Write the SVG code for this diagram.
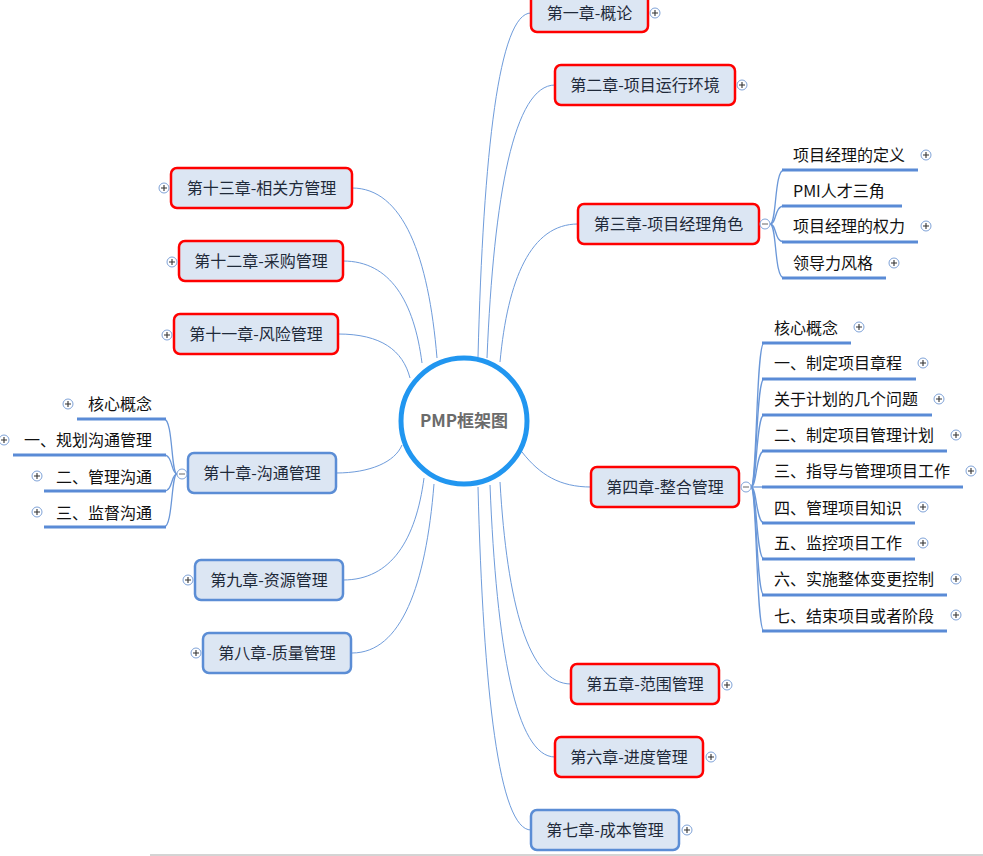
<svg xmlns="http://www.w3.org/2000/svg" xmlns:xlink="http://www.w3.org/1999/xlink" width="983" height="856" viewBox="0 0 983 856">
<style>
  .node rect{fill:#dce6f3;stroke-width:2.5}
  .red rect{stroke:#ff0000}
  .blue rect{stroke:#5b8dd5}
  .nt{font-family:"Noto Sans CJK SC","Noto Sans",sans-serif;font-size:16px;fill:#1f2a3a;text-anchor:middle}
  .st{font-family:"Noto Sans CJK SC","Noto Sans",sans-serif;font-size:16px;fill:#111}
  .conn path{fill:none;stroke:#6f9cdb;stroke-width:1}
  .sub path{fill:none;stroke:#6a97d8;stroke-width:1.3}
  .ul{stroke:#5a8bd6;stroke-width:3}
</style>
<defs>
  <g id="plus"><circle r="5" fill="#fff" stroke="#7fa3d8" stroke-width="1"/><path d="M-3 0H3M0 -3V3" stroke="#333" stroke-width="1.1"/></g>
  <g id="minus"><circle r="5" fill="#fff" stroke="#7fa3d8" stroke-width="1"/><path d="M-3 0H3" stroke="#666" stroke-width="1"/></g>
</defs>
<rect width="983" height="856" fill="#fff"/>
<rect x="150" y="854" width="833" height="2" fill="#d4d4d4"/>

<g id="connectors" class="conn">
  <path d="M478 357C483.3 150.6 499.2 13 531 13"/>
  <path d="M487 358C493.8 194.2 514.2 85 555 85"/>
  <path d="M500 362C507.7 279.2 530.8 224 578 224"/>
  <path d="M522 452C540 475 560 487 591 487"/>
  <path d="M500 482C507.1 603.2 528.4 684 571 684"/>
  <path d="M490 485C496.5 648.2 516 757 555 757"/>
  <path d="M478 487C483.3 692.8 499.2 830 531 830"/>
  <path d="M437 358C428.5 256 403 188 352 188"/>
  <path d="M422 363C414.1 301.8 390.4 261 343 261"/>
  <path d="M410 378C402.8 350.4 381.2 334 338 334"/>
  <path d="M402 445C395 462 370 473 336 473"/>
  <path d="M424 478C415.9 539.2 391.6 580 343 580"/>
  <path d="M434 484C425.8 585.4 401.2 653 352 653"/>
</g>

<g id="sub-connectors" class="sub">
  <path d="M770 224C777 224 774 170 784 170"/>
  <path d="M770 224C777 224 774 206 784 206"/>
  <path d="M770 224C777 224 774 242 784 242"/>
  <path d="M770 224C777 224 774 278 784 278"/>
  <path d="M751 487C757 487 756 343 764 343"/>
  <path d="M751 487C757 487 756 379 764 379"/>
  <path d="M751 487C757 487 756 415 764 415"/>
  <path d="M751 487C757 487 756 451 764 451"/>
  <path d="M751 487L764 487"/>
  <path d="M751 487C757 487 756 523 764 523"/>
  <path d="M751 487C757 487 756 559 764 559"/>
  <path d="M751 487C757 487 756 595 764 595"/>
  <path d="M751 487C757 487 756 631 764 631"/>
  <path d="M177 474C171 474 173 419 164 419"/>
  <path d="M177 474C171 474 173 455 164 455"/>
  <path d="M177 474C171 474 173 491 164 491"/>
  <path d="M177 474C171 474 173 527 164 527"/>
</g>

<g id="center">
  <circle cx="464" cy="421" r="63" fill="#fff" stroke="#2196f0" stroke-width="5"/>
  <text x="464" y="427" text-anchor="middle" font-family="'Noto Sans CJK SC','Noto Sans',sans-serif" font-size="17" font-weight="bold" fill="#6b6b6b">PMP框架图</text>
</g>

<g id="ch1" class="node red"><rect x="531" y="-7" width="117" height="39" rx="6"/><text class="nt" x="589.5" y="19">第一章-概论</text><use href="#plus" x="655" y="13"/></g>
<g id="ch2" class="node red"><rect x="555" y="65" width="180" height="40" rx="6"/><text class="nt" x="645" y="91">第二章-项目运行环境</text><use href="#plus" x="742" y="85"/></g>
<g id="ch3" class="node red"><rect x="578" y="204" width="181" height="40" rx="6"/><text class="nt" x="668.5" y="230">第三章-项目经理角色</text><use href="#minus" x="765" y="224"/></g>
<g id="ch4" class="node red"><rect x="591" y="467" width="148" height="40" rx="6"/><text class="nt" x="665" y="493">第四章-整合管理</text><use href="#minus" x="746" y="487"/></g>
<g id="ch5" class="node red"><rect x="571" y="664" width="148" height="40" rx="6"/><text class="nt" x="645" y="690">第五章-范围管理</text><use href="#plus" x="727" y="685"/></g>
<g id="ch6" class="node red"><rect x="555" y="737" width="148" height="40" rx="6"/><text class="nt" x="629" y="763">第六章-进度管理</text><use href="#plus" x="711" y="757"/></g>
<g id="ch7" class="node blue"><rect x="531" y="810" width="148" height="40" rx="6"/><text class="nt" x="605" y="836">第七章-成本管理</text><use href="#plus" x="687" y="830"/></g>
<g id="ch8" class="node blue"><rect x="203" y="633" width="148" height="40" rx="6"/><text class="nt" x="277" y="659">第八章-质量管理</text><use href="#plus" x="196" y="653"/></g>
<g id="ch9" class="node blue"><rect x="195" y="560" width="148" height="40" rx="6"/><text class="nt" x="269" y="586">第九章-资源管理</text><use href="#plus" x="188" y="580"/></g>
<g id="ch10" class="node blue"><rect x="188" y="453" width="148" height="40" rx="6"/><text class="nt" x="262" y="479">第十章-沟通管理</text><use href="#minus" x="182" y="474"/></g>
<g id="ch11" class="node red"><rect x="174" y="314" width="164" height="40" rx="6"/><text class="nt" x="256" y="340">第十一章-风险管理</text><use href="#plus" x="167" y="335"/></g>
<g id="ch12" class="node red"><rect x="179" y="241" width="164" height="40" rx="6"/><text class="nt" x="261" y="267">第十二章-采购管理</text><use href="#plus" x="172" y="262"/></g>
<g id="ch13" class="node red"><rect x="171" y="168" width="181" height="40" rx="6"/><text class="nt" x="261.5" y="194">第十三章-相关方管理</text><use href="#plus" x="164" y="188"/></g>

<g id="ch3-items">
  <g id="ch3-1"><text class="st" x="793" y="161">项目经理的定义</text><line class="ul" x1="782" y1="170" x2="918" y2="170"/><use href="#plus" x="926" y="155"/></g>
  <g id="ch3-2"><text class="st" x="793" y="197">PMI人才三角</text><line class="ul" x1="782" y1="206" x2="902" y2="206"/></g>
  <g id="ch3-3"><text class="st" x="793" y="232">项目经理的权力</text><line class="ul" x1="782" y1="242" x2="918" y2="242"/><use href="#plus" x="926" y="226"/></g>
  <g id="ch3-4"><text class="st" x="793" y="269">领导力风格</text><line class="ul" x1="782" y1="278" x2="886" y2="278"/><use href="#plus" x="894" y="263"/></g>
</g>

<g id="ch4-items">
  <g id="ch4-0"><text class="st" x="774" y="334">核心概念</text><line class="ul" x1="762" y1="343" x2="851" y2="343"/><use href="#plus" x="859" y="327"/></g>
  <g id="ch4-1"><text class="st" x="774" y="369">一、制定项目章程</text><line class="ul" x1="762" y1="379" x2="916" y2="379"/><use href="#plus" x="923" y="363"/></g>
  <g id="ch4-q"><text class="st" x="774" y="405">关于计划的几个问题</text><line class="ul" x1="762" y1="415" x2="932" y2="415"/><use href="#plus" x="939" y="399"/></g>
  <g id="ch4-2"><text class="st" x="774" y="441">二、制定项目管理计划</text><line class="ul" x1="762" y1="451" x2="947" y2="451"/><use href="#plus" x="956" y="435"/></g>
  <g id="ch4-3"><text class="st" x="774" y="477">三、指导与管理项目工作</text><line class="ul" x1="762" y1="487" x2="963" y2="487"/><use href="#plus" x="971" y="471"/></g>
  <g id="ch4-4"><text class="st" x="774" y="514">四、管理项目知识</text><line class="ul" x1="762" y1="523" x2="915" y2="523"/><use href="#plus" x="923" y="507"/></g>
  <g id="ch4-5"><text class="st" x="774" y="549">五、监控项目工作</text><line class="ul" x1="762" y1="559" x2="915" y2="559"/><use href="#plus" x="923" y="543"/></g>
  <g id="ch4-6"><text class="st" x="774" y="585">六、实施整体变更控制</text><line class="ul" x1="762" y1="595" x2="947" y2="595"/><use href="#plus" x="956" y="579"/></g>
  <g id="ch4-7"><text class="st" x="774" y="622">七、结束项目或者阶段</text><line class="ul" x1="762" y1="631" x2="947" y2="631"/><use href="#plus" x="956" y="615"/></g>
</g>

<g id="ch10-items">
  <g id="ch10-0"><text class="st" x="152" y="410" text-anchor="end">核心概念</text><line class="ul" x1="77" y1="419" x2="166" y2="419"/><use href="#plus" x="68" y="404"/></g>
  <g id="ch10-1"><text class="st" x="152" y="446" text-anchor="end">一、规划沟通管理</text><line class="ul" x1="13" y1="455" x2="166" y2="455"/><use href="#plus" x="4" y="440"/></g>
  <g id="ch10-2"><text class="st" x="152" y="483" text-anchor="end">二、管理沟通</text><line class="ul" x1="44" y1="491" x2="166" y2="491"/><use href="#plus" x="37" y="476"/></g>
  <g id="ch10-3"><text class="st" x="152" y="519" text-anchor="end">三、监督沟通</text><line class="ul" x1="44" y1="527" x2="166" y2="527"/><use href="#plus" x="37" y="512"/></g>
</g>
</svg>
